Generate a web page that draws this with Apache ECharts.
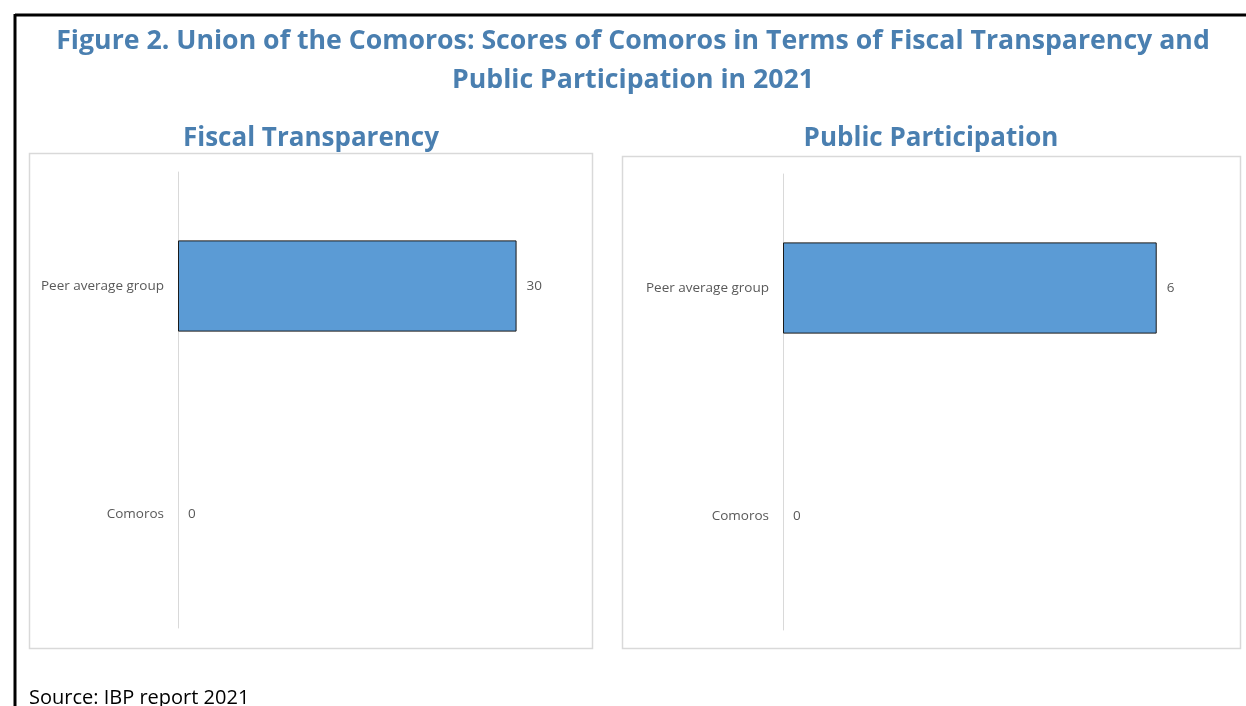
<!DOCTYPE html>
<html><head><meta charset="utf-8">
<script src="https://cdn.jsdelivr.net/npm/echarts@6/dist/echarts.min.js"></script>
<style>html,body{margin:0;padding:0;background:#fff}#c{width:1246px;height:706px}</style>
</head><body><div id="c"></div>
<script>
const categories = ["Comoros", "Peer average group"];
const fiscalTransparency = [0, 30];
const publicParticipation = [0, 6];
const mainTitle = "Figure 2. Union of the Comoros: Scores of Comoros in Terms of Fiscal Transparency and\nPublic Participation in 2021";
const panelTitles = ["Fiscal Transparency", "Public Participation"];
const sourceText = "Source: IBP report 2021";

const chart = echarts.init(document.getElementById('c'), null, {renderer: 'canvas'});
const blue = '#4a7fb0';
const ff = '"Open Sans", "Noto Sans", sans-serif';
function yAx(i){return {type:'category', gridIndex:i, data:categories,
  axisLine:{show:true, lineStyle:{color:'#d9d9d9', width:1}}, axisTick:{show:false},
  axisLabel:{color:'#595959', fontSize:13.5, fontFamily:ff, margin:14}};}
function xAx(i,max){return {type:'value', gridIndex:i, min:0, max:max, show:false, splitLine:{show:false}};}
function ser(i,data){return {type:'bar', xAxisIndex:i, yAxisIndex:i,
  data:data.map(v => v === 0 ? {value:v, itemStyle:{borderWidth:0}} : v), barWidth:'40%',
  itemStyle:{color:'#5b9bd5', borderColor:'#1a1a1a', borderWidth:1},
  label:{show:true, position:'right', distance:10, color:'#595959', fontSize:13.5, fontFamily:ff}};}
chart.setOption({
  animation:false,
  title:[
    {text:mainTitle, left:628, top:17, textAlign:'center', textStyle:{color:blue, fontSize:26.7, fontWeight:'bold', fontFamily:ff, lineHeight:39}},
    {text:panelTitles[0], left:306, top:121, textAlign:'center', textStyle:{color:blue, fontSize:26, fontWeight:'bold', fontFamily:ff}},
    {text:panelTitles[1], left:926, top:121, textAlign:'center', textStyle:{color:blue, fontSize:26, fontWeight:'bold', fontFamily:ff}},
    {text:sourceText, left:24, top:683, textStyle:{color:'#000', fontSize:20, fontWeight:'normal', fontFamily:ff}}
  ],
  graphic:[
    {type:'line', shape:{x1:15, y1:15, x2:1246, y2:15}, style:{stroke:'#000', lineWidth:3}},
    {type:'line', shape:{x1:15, y1:14, x2:15, y2:706}, style:{stroke:'#000', lineWidth:3}},
    {type:'rect', shape:{x:29.5, y:153.5, width:563, height:495}, style:{fill:'none', stroke:'#d9d9d9', lineWidth:1.5}, z:-1},
    {type:'rect', shape:{x:622.5, y:156.5, width:618, height:492}, style:{fill:'none', stroke:'#d9d9d9', lineWidth:1.5}, z:-1}
  ],
  grid:[
    {left:178, top:172, width:395, height:456},
    {left:783, top:174, width:436, height:456}
  ],
  xAxis:[xAx(0,35), xAx(1,7)],
  yAxis:[yAx(0), yAx(1)],
  series:[ser(0,fiscalTransparency), ser(1,publicParticipation)]
});
</script></body></html>
